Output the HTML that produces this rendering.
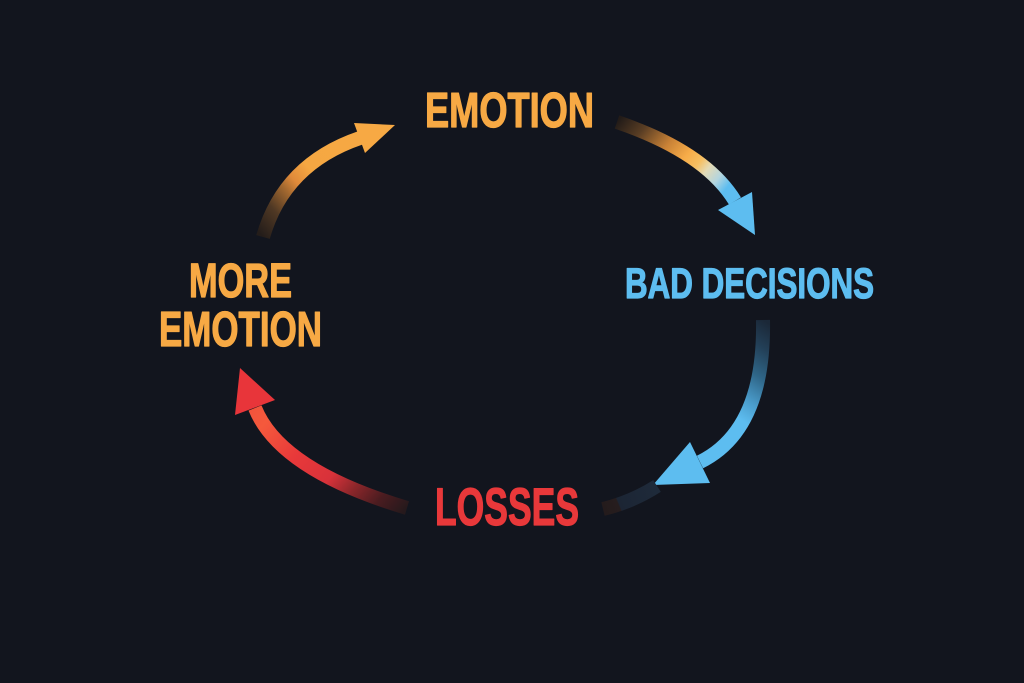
<!DOCTYPE html>
<html>
<head>
<meta charset="utf-8">
<style>
  html, body { margin:0; padding:0; background:#12151e; }
  body { width:1024px; height:683px; overflow:hidden; }
  svg { display:block; }
  text { font-family: "Liberation Sans Narrow", "Liberation Sans", "DejaVu Sans Condensed", sans-serif; font-weight:bold; stroke-width:1.2; stroke-linejoin:round; }
</style>
</head>
<body>
<svg width="1024" height="683" viewBox="0 0 1024 683" xmlns="http://www.w3.org/2000/svg">
  <defs>
    <linearGradient id="g1" gradientUnits="userSpaceOnUse" x1="263" y1="237" x2="395" y2="125">
      <stop offset="0" stop-color="#241d1a"/>
      <stop offset="0.15" stop-color="#4f3824"/>
      <stop offset="0.28" stop-color="#a66a30"/>
      <stop offset="0.35" stop-color="#e08a3a"/>
      <stop offset="0.46" stop-color="#f5a742"/>
      <stop offset="1" stop-color="#f7a944"/>
    </linearGradient>
    <linearGradient id="g2" gradientUnits="userSpaceOnUse" x1="617" y1="122" x2="755" y2="235">
      <stop offset="0" stop-color="#221b18"/>
      <stop offset="0.14" stop-color="#5a3e24"/>
      <stop offset="0.3" stop-color="#c98236"/>
      <stop offset="0.42" stop-color="#f7ac48"/>
      <stop offset="0.5" stop-color="#f6bf62"/>
      <stop offset="0.56" stop-color="#e4dbb6"/>
      <stop offset="0.64" stop-color="#b3d5df"/>
      <stop offset="0.71" stop-color="#5dbdf0"/>
      <stop offset="1" stop-color="#5dbdf0"/>
    </linearGradient>
    <linearGradient id="g3" gradientUnits="userSpaceOnUse" x1="763" y1="320" x2="653" y2="485">
      <stop offset="0" stop-color="#1b2838"/>
      <stop offset="0.12" stop-color="#234058"/>
      <stop offset="0.25" stop-color="#2f6688"/>
      <stop offset="0.38" stop-color="#4a9ccb"/>
      <stop offset="0.48" stop-color="#5dbdf0"/>
      <stop offset="1" stop-color="#5dbdf0"/>
    </linearGradient>
    <linearGradient id="g4" gradientUnits="userSpaceOnUse" x1="407" y1="508" x2="240" y2="368">
      <stop offset="0" stop-color="#25191c"/>
      <stop offset="0.12" stop-color="#4a1c20"/>
      <stop offset="0.24" stop-color="#8a262a"/>
      <stop offset="0.36" stop-color="#d8323a"/>
      <stop offset="0.55" stop-color="#e8393a"/>
      <stop offset="0.75" stop-color="#f5593c"/>
      <stop offset="1" stop-color="#ee4a3a"/>
    </linearGradient>
    <linearGradient id="g5" gradientUnits="userSpaceOnUse" x1="655" y1="487" x2="603" y2="509">
      <stop offset="0" stop-color="#1e2a3a"/>
      <stop offset="0.7" stop-color="#1c2534"/>
      <stop offset="0.72" stop-color="#261d1e"/>
      <stop offset="1" stop-color="#241b1c"/>
    </linearGradient>
  </defs>

  <rect x="0" y="0" width="1024" height="683" fill="#12151e"/>

  <!-- top-left arrow (orange) -->
  <path d="M263,237 Q284,164 360,138" fill="none" stroke="url(#g1)" stroke-width="14"/>
  <polygon points="395,125 354,123 365,153" fill="#f7a944"/>

  <!-- top-right arrow (orange to blue) -->
  <path d="M617,122 Q705,152 735,201" fill="none" stroke="url(#g2)" stroke-width="14"/>
  <polygon points="755,235 718,210 752,192" fill="#5dbdf0"/>

  <!-- right arrow (blue) -->
  <path d="M763,320 Q765,430 700,462" fill="none" stroke="url(#g3)" stroke-width="14"/>
  <polygon points="653,485 690,442 710,483" fill="#5dbdf0"/>

  <!-- faded bottom continuation -->
  <path d="M657,486 Q632,502 603,509" fill="none" stroke="url(#g5)" stroke-width="14"/>

  <!-- bottom-left arrow (red) -->
  <path d="M407,508 Q280,470 255,408" fill="none" stroke="url(#g4)" stroke-width="14"/>
  <polygon points="240,368 235,415 275,400" fill="#e8353a"/>

  <!-- labels -->
  <text x="425" y="127" font-size="49" fill="#f7a944" stroke="#f7a944" textLength="169" lengthAdjust="spacingAndGlyphs">EMOTION</text>
  <text x="189" y="297" font-size="48" fill="#f7a944" stroke="#f7a944" textLength="103" lengthAdjust="spacingAndGlyphs">MORE</text>
  <text x="159" y="346" font-size="49" fill="#f7a944" stroke="#f7a944" textLength="163" lengthAdjust="spacingAndGlyphs">EMOTION</text>
  <text x="625" y="298" font-size="43" fill="#5dbdf0" stroke="#5dbdf0" textLength="249" lengthAdjust="spacingAndGlyphs">BAD DECISIONS</text>
  <text x="435" y="525" font-size="53" fill="#e8383a" stroke="#e8383a" textLength="144" lengthAdjust="spacingAndGlyphs">LOSSES</text>
</svg>
</body>
</html>
